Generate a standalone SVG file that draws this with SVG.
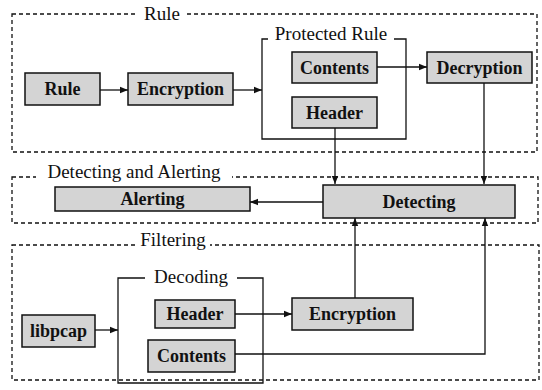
<svg xmlns="http://www.w3.org/2000/svg" width="542" height="390" viewBox="0 0 542 390">
<style>
.grp{fill:none;stroke:#111;stroke-width:1.3;stroke-dasharray:4 3}
.gl{font-family:'Liberation Serif','Times New Roman',serif;font-size:19px;fill:#111;text-anchor:middle}
.bg{fill:#fff}
.box{fill:none;stroke:#111;stroke-width:1.3}
.n{fill:#d4d4d4;stroke:#111;stroke-width:1.5}
.nl{font-family:'Liberation Serif','Times New Roman',serif;font-size:18px;font-weight:bold;fill:#111;text-anchor:middle;dominant-baseline:central}
.c{fill:none;stroke:#111;stroke-width:1.3}
</style>
<defs>
<marker id="ah" viewBox="0 0 10 10" refX="10" refY="5" markerWidth="8" markerHeight="8" markerUnits="userSpaceOnUse" orient="auto">
<path d="M0,1 L10,5 L0,9 z" fill="#111"/>
</marker>
</defs>
<g id="group-rule">
<rect class="grp" x="12" y="14" width="525" height="138"/>
<rect class="bg" x="138" y="4" width="48" height="20"/>
<text class="gl" x="162" y="20">Rule</text>
</g>
<g id="group-detecting-alerting">
<rect class="grp" x="12" y="177" width="526" height="46"/>
<rect class="bg" x="36" y="164" width="196" height="20"/>
<text class="gl" x="134" y="178">Detecting and Alerting</text>
</g>
<g id="group-filtering">
<rect class="grp" x="12" y="245" width="527" height="135"/>
<rect class="bg" x="136" y="232" width="74" height="20"/>
<text class="gl" x="173" y="246">Filtering</text>
</g>
<g id="protected-rule">
<path class="box" d="M268,39 L262,39 L262,139 L406,139 L406,39 L394,39"/>
<text class="gl" x="331" y="40">Protected Rule</text>
</g>
<g id="decoding">
<path class="box" d="M145,278 L118,278 L118,383 L263,383 L263,278 L237,278"/>
<text class="gl" x="191" y="283">Decoding</text>
</g>
<g id="node-rule"><rect class="n" x="25" y="73" width="75" height="32"/><text class="nl" x="62.5" y="89">Rule</text></g>
<g id="node-encryption-top"><rect class="n" x="128" y="73" width="105" height="32"/><text class="nl" x="180.5" y="89">Encryption</text></g>
<g id="node-contents-top"><rect class="n" x="292" y="52" width="85" height="31"/><text class="nl" x="334.5" y="67.5">Contents</text></g>
<g id="node-header-top"><rect class="n" x="292" y="97" width="85" height="31"/><text class="nl" x="334.5" y="112.5">Header</text></g>
<g id="node-decryption"><rect class="n" x="427" y="52" width="105" height="31"/><text class="nl" x="479.5" y="67.5">Decryption</text></g>
<g id="node-alerting"><rect class="n" x="55" y="187" width="195" height="24"/><text class="nl" x="152.5" y="199">Alerting</text></g>
<g id="node-detecting"><rect class="n" x="323" y="185" width="192" height="33"/><text class="nl" x="419" y="201.5">Detecting</text></g>
<g id="node-libpcap"><rect class="n" x="22" y="315" width="73" height="32"/><text class="nl" x="58.5" y="331">libpcap</text></g>
<g id="node-header-bottom"><rect class="n" x="155" y="300" width="80" height="28"/><text class="nl" x="195" y="314">Header</text></g>
<g id="node-contents-bottom"><rect class="n" x="148" y="340" width="87" height="32"/><text class="nl" x="191.5" y="356">Contents</text></g>
<g id="node-encryption-bottom"><rect class="n" x="292" y="298" width="121" height="32"/><text class="nl" x="352.5" y="314">Encryption</text></g>
<g id="connectors">
<path class="c" d="M100,90 L128,90" marker-end="url(#ah)"/>
<path class="c" d="M233,90 L262,90" marker-end="url(#ah)"/>
<path class="c" d="M377,67 L427,67" marker-end="url(#ah)"/>
<path class="c" d="M335,128 L335,184" marker-end="url(#ah)"/>
<path class="c" d="M484,83 L484,184" marker-end="url(#ah)"/>
<path class="c" d="M323,202 L250,202" marker-end="url(#ah)"/>
<path class="c" d="M95,330 L118,330" marker-end="url(#ah)"/>
<path class="c" d="M235,314 L292,314" marker-end="url(#ah)"/>
<path class="c" d="M355,298 L355,218" marker-end="url(#ah)"/>
<path class="c" d="M235,354 L485,354 L485,218" marker-end="url(#ah)"/>
</g>
</svg>
